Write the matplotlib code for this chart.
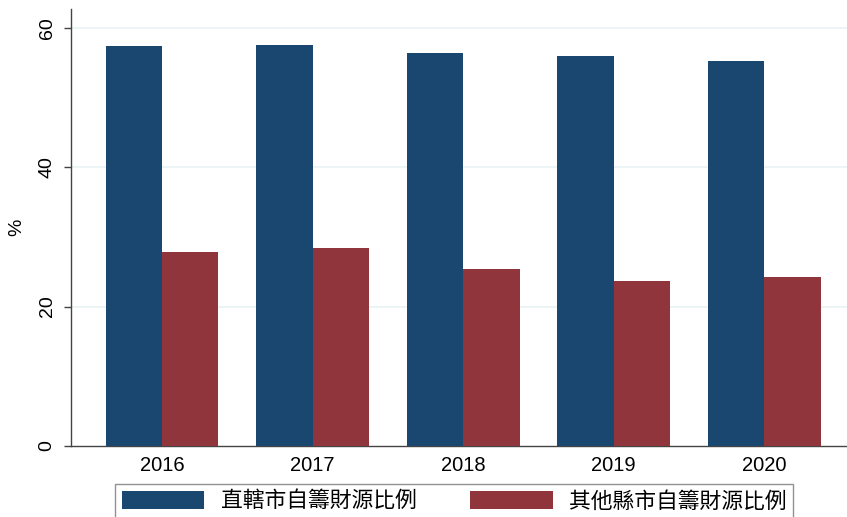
import numpy as np
import matplotlib.pyplot as plt
from matplotlib.patches import Patch

plt.rcParams['font.family'] = ['Liberation Sans', 'Noto Sans CJK TC', 'DejaVu Sans']

years = ['2016', '2017', '2018', '2019', '2020']
city = [57.4, 57.6, 56.4, 55.9, 55.3]     # 直轄市自籌財源比例
county = [27.9, 28.4, 25.4, 23.7, 24.3]   # 其他縣市自籌財源比例
yticks = [0, 20, 40, 60]

blue = '#1a476f'
red = '#90353b'

W, H = 847, 517
fig = plt.figure(figsize=(W / 100, H / 100), dpi=100)
ax = fig.add_axes([71 / W, 1 - 446 / H, (W - 71) / W, (446 - 9) / H])

x = np.arange(len(years))
bw = 0.375
ax.bar(x - bw / 2, city, bw, color=blue, linewidth=0, zorder=3)
ax.bar(x + bw / 2, county, bw, color=red, linewidth=0, zorder=3)

ax.set_xlim(-0.605, 4.551)
ax.set_ylim(0, 62.7)
ax.set_yticks(yticks)
ax.set_yticklabels([str(t) for t in yticks], rotation=90, va='center', fontsize=14)
ax.set_xticks(x)
ax.set_xticklabels(years, fontsize=14.5)
ax.tick_params(axis='x', length=0, pad=7)
ax.tick_params(axis='y', length=5, width=1, pad=6, color='#444444')
for t in [20, 40, 60]:
    ax.axhline(t, color='#eaf2f3', linewidth=1.2, zorder=1)
ax.set_ylabel('%', fontsize=14, labelpad=10)

for s in ['top', 'right']:
    ax.spines[s].set_visible(False)
for s in ['left', 'bottom']:
    ax.spines[s].set_color('#444444')
    ax.spines[s].set_linewidth(1)

handles = [Patch(facecolor=blue, label='直轄市自籌財源比例'),
           Patch(facecolor=red, label='其他縣市自籌財源比例')]
leg = fig.legend(handles=handles, loc='upper left', bbox_to_anchor=(115 / W, 1 - 484 / H),
                 ncol=2, fontsize=15.7, frameon=True, fancybox=False,
                 handlelength=3.8, handleheight=0.95, columnspacing=2.45,
                 borderpad=0.3, handletextpad=0.75, borderaxespad=0)
leg.get_frame().set_edgecolor('#777777')
leg.get_frame().set_linewidth(1)

fig.savefig('out.png', dpi=100)
